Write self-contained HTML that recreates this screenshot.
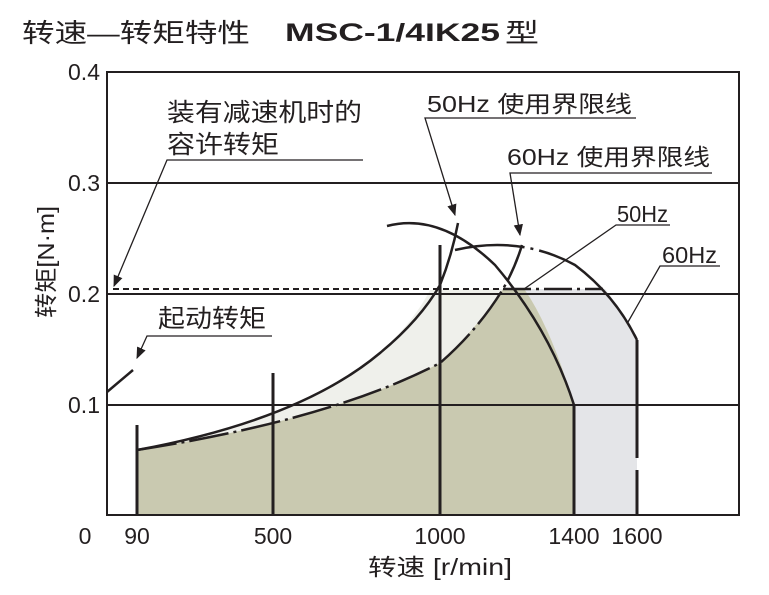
<!DOCTYPE html>
<html><head><meta charset="utf-8"><style>
html,body{margin:0;padding:0;background:#fff;}
svg{display:block;}
text{font-family:"Liberation Sans","Noto Sans CJK SC",sans-serif;fill:#231f20;}
</style></head><body>
<svg width="769" height="595" viewBox="0 0 769 595" xmlns="http://www.w3.org/2000/svg">
<defs>
<marker id="ar" viewBox="0 0 10 10" refX="9" refY="5" markerWidth="9" markerHeight="9" orient="auto-start-reverse"><path d="M0,1 L10,5 L0,9 z" fill="#231f20"/></marker>
</defs>
<!-- title -->
<text x="22" y="42" font-size="26" textLength="228" lengthAdjust="spacingAndGlyphs">转速—转矩特性</text>
<text x="285" y="41" font-size="25" font-weight="bold" textLength="215" lengthAdjust="spacingAndGlyphs">MSC-1/4IK25</text>
<text x="505" y="42" font-size="26" textLength="34" lengthAdjust="spacingAndGlyphs">型</text>

<!-- fills -->
<path d="M503,289 L605,289 Q622,310 637,340 L637,515 L574,515 L574,405 Q552,330 525,290 Z" fill="#e4e5e8"/>
<path d="M137,450 Q300,420 380,353 Q415,320 430,290 L503,289 Q470,335 440,363 Q330,420 137,450 Z" fill="#eff0eb"/>
<path d="M137,450 Q330,420 440,363 Q475,330 503,289 L525,290 Q552,330 574,405 L574,515 L137,515 Z" fill="#c9c9b0"/>

<!-- grid lines -->
<g stroke="#231f20" stroke-width="2" fill="none">
<line x1="107" y1="183" x2="739" y2="183"/>
<line x1="107" y1="294" x2="739" y2="294"/>
<line x1="107" y1="405" x2="739" y2="405"/>
<rect x="107" y="72" width="632" height="443"/>
</g>
<line x1="113" y1="289" x2="503" y2="289" stroke="#231f20" stroke-width="2" stroke-dasharray="6 4"/>
<line x1="503" y1="289" x2="603" y2="289" stroke="#231f20" stroke-width="2.5" stroke-dasharray="28 5 3 5"/>

<!-- verticals -->
<g stroke="#231f20" stroke-width="3">
<line x1="137" y1="425" x2="137" y2="515"/>
<line x1="273" y1="373" x2="273" y2="515"/>
<line x1="440" y1="245" x2="440" y2="515"/>
<line x1="574" y1="405" x2="574" y2="515"/>
<line x1="637" y1="340" x2="637" y2="458"/>
<line x1="637" y1="470" x2="637" y2="515"/>
</g>

<!-- curves -->
<g stroke="#231f20" stroke-width="2.5" fill="none">
<path d="M137,450 Q300,420 380,353 Q420,320 440,285 Q452,255 458,223"/>
<path d="M387,226 Q440,212 495,265 Q550,330 574,405"/>
<path d="M137,450 Q330,420 440,363 Q478,330 503,289 Q515,268 522,245" stroke-dasharray="40 5 3 5"/>
<path d="M455,250 Q520,235 575,265 Q615,295 637,340" stroke-dasharray="70 6 3 6 200"/>
<path d="M107,392 L133,370"/>
</g>

<!-- leader lines -->
<g stroke="#231f20" stroke-width="1.3" fill="none">
<polyline points="363,160 167,160 114,286" marker-end="url(#ar)"/>
<polyline points="272,336 147,336 137,358" marker-end="url(#ar)"/>
<polyline points="636,118 425,118 455,215" marker-end="url(#ar)"/>
<polyline points="712,173 510,173 520,235" marker-end="url(#ar)"/>
<polyline points="670,225 616,225 524,289"/>
<polyline points="720,266 660,266 628,322"/>
</g>

<!-- annotations -->
<text x="167" y="121" font-size="25" textLength="195" lengthAdjust="spacingAndGlyphs">装有减速机时的</text>
<text x="167" y="153" font-size="25" textLength="112" lengthAdjust="spacingAndGlyphs">容许转矩</text>
<text x="158" y="327" font-size="25" textLength="108" lengthAdjust="spacingAndGlyphs">起动转矩</text>
<text x="427" y="112" font-size="23" textLength="205" lengthAdjust="spacingAndGlyphs">50Hz 使用界限线</text>
<text x="507" y="165" font-size="23" textLength="203" lengthAdjust="spacingAndGlyphs">60Hz 使用界限线</text>
<text x="617" y="222" font-size="23" textLength="51" lengthAdjust="spacingAndGlyphs">50Hz</text>
<text x="662" y="263" font-size="23" textLength="55" lengthAdjust="spacingAndGlyphs">60Hz</text>

<!-- y tick labels -->
<g font-size="23" text-anchor="end">
<text x="100" y="80">0.4</text>
<text x="100" y="191">0.3</text>
<text x="100" y="302">0.2</text>
<text x="100" y="413">0.1</text>
</g>
<g font-size="23" text-anchor="middle">
<text x="85" y="544">0</text>
<text x="137" y="544">90</text>
<text x="273" y="544">500</text>
<text x="440" y="544">1000</text>
<text x="574" y="544">1400</text>
<text x="637" y="544">1600</text>
</g>
<text x="368" y="575" font-size="23" textLength="144" lengthAdjust="spacingAndGlyphs">转速  [r/min]</text>
<text transform="translate(54,262) rotate(-90)" font-size="23" text-anchor="middle" textLength="112" lengthAdjust="spacingAndGlyphs">转矩[N·m]</text>
</svg>
</body></html>
